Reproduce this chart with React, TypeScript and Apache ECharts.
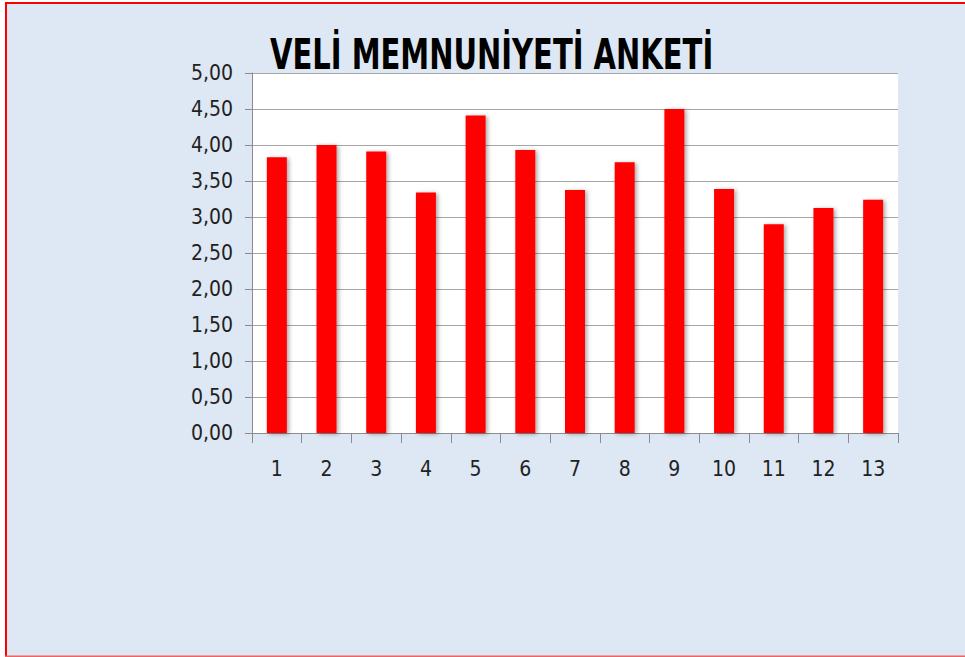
import React, { useEffect, useRef } from "react";
import * as echarts from "echarts";

const categories = ["1", "2", "3", "4", "5", "6", "7", "8", "9", "10", "11", "12", "13"];
const values = [3.83, 4.0, 3.91, 3.34, 4.41, 3.93, 3.375, 3.76, 4.5, 3.39, 2.9, 3.125, 3.24];
const titleText = "VELİ MEMNUNİYETİ ANKETİ";

const FONT = "'Liberation Sans Narrow', 'DejaVu Sans Condensed', 'Liberation Sans', sans-serif";

export default function App() {
  const ref = useRef<HTMLDivElement>(null);
  useEffect(() => {
    if (!ref.current) return;
    const chart = echarts.init(ref.current, undefined, { renderer: "svg" });
    chart.setOption({
      animation: false,
      backgroundColor: "#ffffff",
      graphic: [
        { type: "rect", z: -10, shape: { x: 7, y: 4, width: 958, height: 652 }, style: { fill: "#dde8f4" } },
        { type: "rect", z: -9, shape: { x: 5, y: 2, width: 960, height: 2 }, style: { fill: "#ff0000" } },
        { type: "rect", z: -9, shape: { x: 5, y: 2, width: 2, height: 655 }, style: { fill: "#ff0000" } },
        { type: "rect", z: -9, shape: { x: 5, y: 655.5, width: 960, height: 1.5 }, style: { fill: "#f26262" } },
        {
          type: "text",
          z: 10,
          x: 270,
          y: 54,
          scaleX: 0.75,
          style: {
            text: titleText,
            font: `bold 43px ${FONT}`,
            fill: "#000000",
            verticalAlign: "middle",
            align: "left",
          },
        },
      ],
      grid: {
        left: 252,
        right: 67,
        top: 73,
        bottom: 224,
        show: true,
        backgroundColor: "#ffffff",
        borderWidth: 0,
      },
      xAxis: {
        type: "category",
        data: categories,
        axisLine: { show: true, lineStyle: { color: "#8c8c8c", width: 1 } },
        axisTick: { show: true, length: 10, lineStyle: { color: "#8c8c8c" } },
        axisLabel: { color: "#222", fontSize: 21, fontFamily: FONT, margin: 25 },
        splitLine: { show: false },
      },
      yAxis: {
        type: "value",
        min: 0,
        max: 5,
        interval: 0.5,
        axisLine: { show: true, lineStyle: { color: "#8c8c8c", width: 1 } },
        axisTick: { show: true, length: 7, lineStyle: { color: "#8c8c8c" } },
        axisLabel: {
          color: "#222",
          fontSize: 21,
          fontFamily: FONT,
          margin: 19,
          formatter: (v: number) => v.toFixed(2).replace(".", ","),
        },
        splitLine: { show: true, lineStyle: { color: "#a6a6a6", width: 1 } },
      },
      series: [
        {
          type: "bar",
          data: values,
          barWidth: 20,
          itemStyle: {
            color: "#ff0000",
            shadowColor: "rgba(0,0,0,0.35)",
            shadowBlur: 4,
            shadowOffsetX: 2,
            shadowOffsetY: 1,
          },
        },
      ],
    });
    return () => chart.dispose();
  }, []);
  return (
    <div
      ref={ref}
      style={{ position: "fixed", left: 0, top: 0, width: 965, height: 657 }}
    />
  );
}
